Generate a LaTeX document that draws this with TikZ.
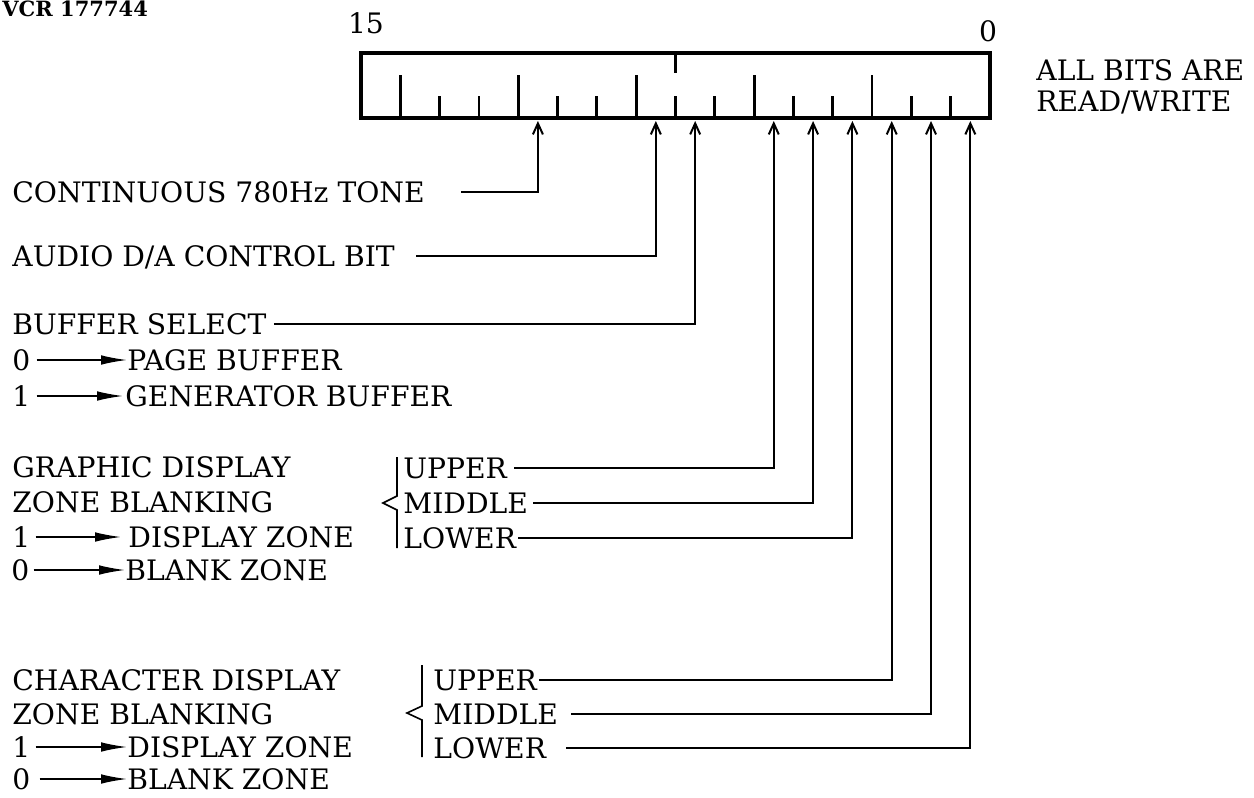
\documentclass[tikz,border=0pt]{standalone}
\usepackage{fontspec}
\setmainfont{DejaVu Serif}
\usepackage{tikz}
\usetikzlibrary{arrows.meta, calc}

\def\bw{39.3125}

\begin{document}
\begin{tikzpicture}[x=0.5pt, y=-0.5pt,
  every node/.style={font=\fontsize{14.1}{16}\selectfont, inner sep=0pt, anchor=west, text height=10.3pt, text depth=0pt},
  sig/.style={line width=1pt, -{Straight Barb[length=5.5pt,width=5pt]}},
  sel/.style={line width=0.7pt, -{Latex[length=13pt,width=4.8pt]}},
  brc/.style={line width=0.8pt}]
  \useasboundingbox (0,0) rectangle (1254,798);

  % register box, bits 15..0
  \draw[line width=1.8pt] (361,53) rectangle (990,118);
  \foreach \i in {1,...,15} {
    \pgfmathsetmacro\tl{mod(\i,3)==1 ? 43 : 22}
    \draw[line width=1.4pt] (361+\bw*\i,118) -- ++(0,-\tl);
  }
  \draw[line width=1.2pt] (361+\bw*8,53) -- ++(0,20);
  \foreach \b in {0,...,15}
    \coordinate (b\b) at (990-\bw*\b-\bw/2,121);

  \node[font=\bfseries\fontsize{10.5}{12}\selectfont, text height=7.8pt] (reg) at (2,9) {VCR 177744};
  \node[anchor=center] (msb) at (366,23) {15};
  \node[anchor=center] (lsb) at (988,31) {0};
  \node (rw1) at (1036,70) {ALL BITS ARE};
  \node (rw2) at (1036,101) {READ/WRITE};

  % single bits
  \node (tone) at (12,192) {CONTINUOUS 780Hz TONE};
  \node (audio) at (12,256) {AUDIO D/A CONTROL BIT};
  \node (bufsel) at (12,324) {BUFFER SELECT};
  \node (pg0) at (12,360) {0};
  \node (pgtxt) at (127,360) {PAGE BUFFER};
  \node (gn1) at (12,396) {1};
  \node (gntxt) at (125,396) {GENERATOR BUFFER};

  \draw[sig, shorten <=18pt] (tone.east) -| (b11);
  \draw[sig, shorten <=10.5pt] (audio.east) -| (b8);
  \draw[sig, shorten <=3.5pt] (bufsel.east) -| (b7);
  \draw[sel, shorten <=3pt] (pg0) -- (pgtxt);
  \draw[sel, shorten <=3pt, shorten >=1pt] (gn1) -- (gntxt);

  % graphic zones
  \node (gfx) at (12,467) {GRAPHIC DISPLAY};
  \node (gfxzb) at (12,502) {ZONE BLANKING};
  \node (gd1) at (12,537) {1};
  \node (gdtxt) at (128,537) {DISPLAY ZONE};
  \node (gb0) at (11,570) {0};
  \node (gbtxt) at (125,570) {BLANK ZONE};
  \draw[sel, shorten <=2.5pt, shorten >=3.5pt] (gd1) -- (gdtxt);
  \draw[sel, shorten <=2pt] (gb0) -- (gbtxt);
  \draw[brc] (397,457) -- (397,496) -- (383,503) -- (397,510) -- (397,548);
  \node (gup) at (403,468) {UPPER};
  \node (gmid) at (403,503) {MIDDLE};
  \node (glow) at (403,538) {LOWER};
  \draw[sig, shorten <=3.5pt] (gup.east) -| (b5);
  \draw[sig, shorten <=2.5pt] (gmid.east) -| (b4);
  \draw[sig, shorten <=1pt] (glow.east) -| (b3);

  % character zones
  \node (chr) at (12,680) {CHARACTER DISPLAY};
  \node (chrzb) at (12,714) {ZONE BLANKING};
  \node (cd1) at (12,747) {1};
  \node (cdtxt) at (127,747) {DISPLAY ZONE};
  \node (cb0) at (12,779) {0};
  \node (cbtxt) at (127,779) {BLANK ZONE};
  \draw[sel, shorten <=2.5pt] (cd1) -- (cdtxt);
  \draw[sel, shorten <=4.5pt] (cb0) -- (cbtxt);
  \draw[brc] (422,665) -- (422,706) -- (407,713) -- (422,720) -- (422,757);
  \node (cup) at (433,680) {UPPER};
  \node (cmid) at (433,714) {MIDDLE};
  \node (clow) at (433,748) {LOWER};
  \draw[sig, shorten <=1pt] (cup.east) -| (b2);
  \draw[sig, shorten <=6.5pt] (cmid.east) -| (b1);
  \draw[sig, shorten <=10pt] (clow.east) -| (b0);
\end{tikzpicture}
\end{document}
